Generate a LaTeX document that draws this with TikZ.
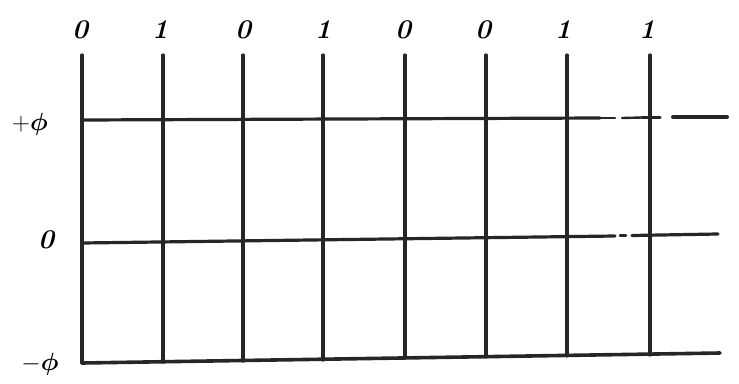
\documentclass[tikz,border=0pt]{standalone}
\usepackage{amsmath}
\usepackage{bm}
\begin{document}
\begin{tikzpicture}[x=1pt,y=-1pt,
  gridline/.style={line width=3.2pt,black!85,line cap=round},
  toplabel/.style={font=\fontsize{27}{30}\selectfont\itshape\bfseries,inner sep=0pt},
  sidelabel/.style={font=\fontsize{27}{30}\selectfont\itshape\bfseries,inner sep=0pt}]
\useasboundingbox (0,0) rectangle (739,383);
% vertical lines
\foreach \x/\yb in {82/363,163/362,243/361,323/360,405/358,486/357,567/356,650/355}
  \draw[gridline] (\x,55) -- (\x,\yb);
% +phi line
\draw[gridline] (82,120) -- (600,118);
\draw[gridline,line width=2.4pt] (600,118) -- (615,118);
\draw[gridline,line width=2.4pt] (622,118) -- (642,117.5);
\draw[gridline] (642,117.5) -- (660,117.5);
\draw[gridline,line width=4pt] (673,117) -- (727,117);
% 0 line
\draw[gridline] (82,243) -- (615,236);
\draw[gridline,line width=2.4pt] (620,235.5) -- (626,235.5);
\draw[gridline] (632,235.5) -- (718,234);
% -phi line
\draw[gridline,line width=3.6pt] (82,363) -- (720,353);
% top labels
\foreach \x/\t [count=\i] in {80/0,160/1,243/0,323/1,403/0,483/0,563/1,647/1}
  \node[toplabel] (t\i) at (\x,30) {\t};
% side labels
\node[sidelabel] (pp) at (30,124) {$+\bm{\phi}$};
\node[sidelabel] (zz) at (46,240) {0};
\node[sidelabel] (mp) at (40,364) {$-\bm{\phi}$};
\end{tikzpicture}
\end{document}
